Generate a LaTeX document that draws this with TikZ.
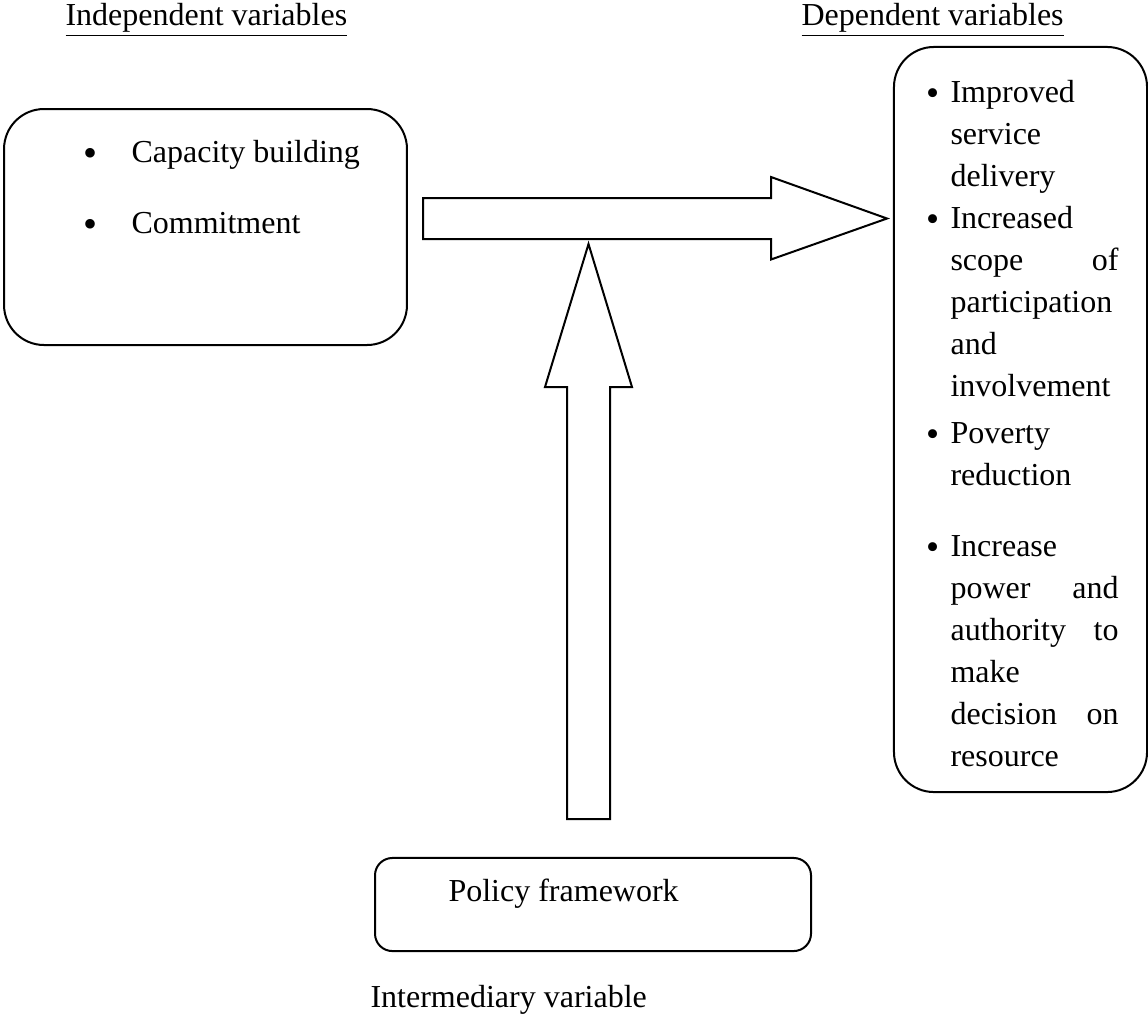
\documentclass[tikz,border=0pt]{standalone}
\usepackage{fontspec}
\setmainfont{Liberation Serif}
\usetikzlibrary{positioning,calc}

\newcommand{\bigbul}{\leavevmode\llap{\raisebox{-1.5pt}{\fontsize{15}{15}\selectfont\textbullet}\hspace{12.8pt}}}
\newcommand{\depbul}{\leavevmode\llap{\raisebox{-1.2pt}{\fontsize{14}{14}\selectfont\textbullet}\hspace{4.3pt}}}

\tikzset{
  rbox/.style={draw, line width=0.75pt, rounded corners=15pt, inner sep=0pt},
  txt/.style={inner sep=0pt, anchor=base west, font=\fontsize{12}{15.75}\selectfont},
  deplist/.style={txt, text width=63pt},
  blockarrow/.style={draw, line width=0.75pt, fill=white, line join=miter},
}

\begin{document}
\begin{tikzpicture}[x=0.375pt,y=-0.375pt]
  \useasboundingbox (0,0) rectangle (1148,1016);
  % titles
  \node[txt] (indeptitle) at (65,25) {\underline{Independent variables}};
  \node[txt] (deptitle) at (801,25) {\underline{Dependent variables}};
  % independent box
  \node[rbox, minimum width=151.1pt, minimum height=88.5pt] (indep) at (205.5,227) {};
  \node[txt] (capb) at (131,162) {\bigbul Capacity building};
  \node[txt] (commit) at (131,233) {\bigbul Commitment};
  % dependent box
  \node[rbox, minimum width=94.9pt, minimum height=279.4pt] (dep) at (1020.5,419.5) {};
  \node[deplist] (dep1) at (950,102) {\depbul Improved\\ service\\ delivery};
  \node[deplist] (dep2) at (950,228) {\depbul Increased\\ scope \hfill of\\ participation\\ and\\ involvement};
  \node[deplist] (dep3) at (950,443) {\depbul Poverty\\ reduction};
  \node[deplist] (dep4) at (950,556) {\depbul Increase\\ power \hfill and\\ authority \hfill to\\ make\\ decision \hfill on\\ resource};
  % intermediary box
  \node[rbox, rounded corners=6.5pt, minimum width=163.5pt, minimum height=34.9pt] (policy) at (593,904.5) {};
  \node[txt] (policytxt) at (448,901) {Policy framework};
  \node[txt] (interm) at (370,1007) {Intermediary variable};
  % arrow ends
  \coordinate (hfrom) at (423,218.5);
  \coordinate (hto) at (887,218.5);
  \coordinate (vfrom) at (588.5,819);
  \coordinate (vto) at (588.5,244);
  % horizontal block arrow
  \draw[blockarrow] (hfrom) ++(0,-20.5) -- ++(348,0) -- ++(0,-21) -- (hto)
    -- ++(-116,41) -- ++(0,-20.5) -- ++(-348,0) -- cycle;
  % vertical block arrow
  \draw[blockarrow] (vfrom) ++(-21.5,0) -- ++(0,-432) -- ++(-22,0) -- (vto)
    -- ++(43.5,143) -- ++(-22,0) -- ++(0,432) -- cycle;
\end{tikzpicture}
\end{document}
